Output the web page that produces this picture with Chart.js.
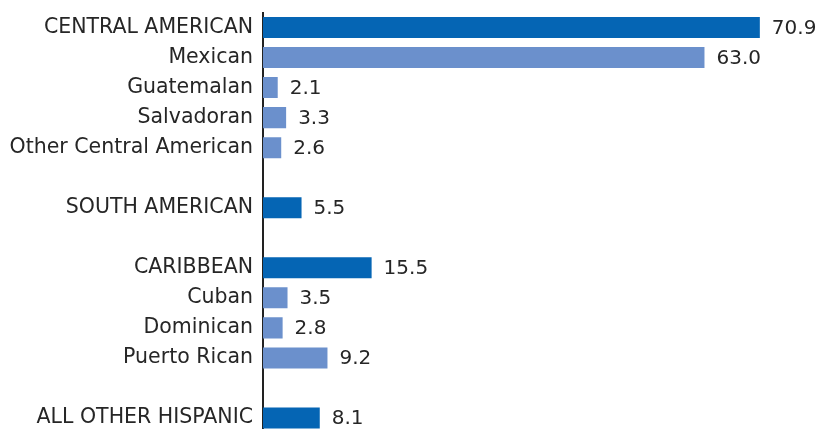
<!DOCTYPE html>
<html>
<head>
<meta charset="utf-8">
<script src="https://cdn.jsdelivr.net/npm/chart.js@4/dist/chart.umd.min.js"></script>
<style>
  html, body { margin: 0; padding: 0; background: #fff; overflow: hidden; }
  #wrap { position: relative; width: 818px; height: 433px; }
</style>
</head>
<body>
<div id="wrap"><canvas id="origins"></canvas></div>
<script>
// rows from top to bottom, '' rows are spacers between the groups
const groups = ['CENTRAL AMERICAN', 'Mexican', 'Guatemalan', 'Salvadoran', 'Other Central American', '',
  'SOUTH AMERICAN', '', 'CARIBBEAN', 'Cuban', 'Dominican', 'Puerto Rican', '', 'ALL OTHER HISPANIC'];
const shares = [70.9, 63.0, 2.1, 3.3, 2.6, null, 5.5, null, 15.5, 3.5, 2.8, 9.2, null, 8.1];
const isHeading = [true, false, false, false, false, false, true, false, true, false, false, false, false, true];

const DARK = '#0565b4';
const LIGHT = '#6b90cc';
const FONT = '"DejaVu Sans", Verdana, sans-serif';

// writes the number just right of each bar
const valueLabels = {
  id: 'valueLabels',
  afterDatasetsDraw(chart) {
    const ctx = chart.ctx;
    const meta = chart.getDatasetMeta(0);
    ctx.save();
    ctx.font = '20px ' + FONT;
    ctx.fillStyle = '#262626';
    ctx.textBaseline = 'middle';
    ctx.textAlign = 'left';
    meta.data.forEach((bar, i) => {
      if (shares[i] == null) return;
      ctx.fillText(shares[i].toFixed(1), bar.x + 12, bar.y + 1);
    });
    ctx.restore();
  }
};

new Chart(document.getElementById('origins'), {
  type: 'bar',
  data: {
    labels: groups,
    datasets: [{
      data: shares,
      backgroundColor: isHeading.map(h => h ? DARK : LIGHT),
      barPercentage: 0.7,
      categoryPercentage: 1.0
    }]
  },
  options: {
    indexAxis: 'y',
    responsive: true,
    maintainAspectRatio: false,
    animation: false,
    layout: { padding: { top: 12.5, right: 0, bottom: 0, left: 0 } },
    plugins: { legend: { display: false }, tooltip: { enabled: false } },
    scales: {
      x: { display: false, min: 0, max: 79.2 },
      y: {
        afterFit(scale) {
          scale.width = 263;
          scale.paddingTop = 0;
          scale.paddingBottom = 0;
        },
        grid: { display: false, drawTicks: false },
        border: { display: true, color: '#222', width: 2 },
        ticks: {
          color: '#262626',
          padding: 10,
          font: { family: FONT, size: 20.5 },
          autoSkip: false
        }
      }
    }
  },
  plugins: [valueLabels]
});
</script>
</body>
</html>
